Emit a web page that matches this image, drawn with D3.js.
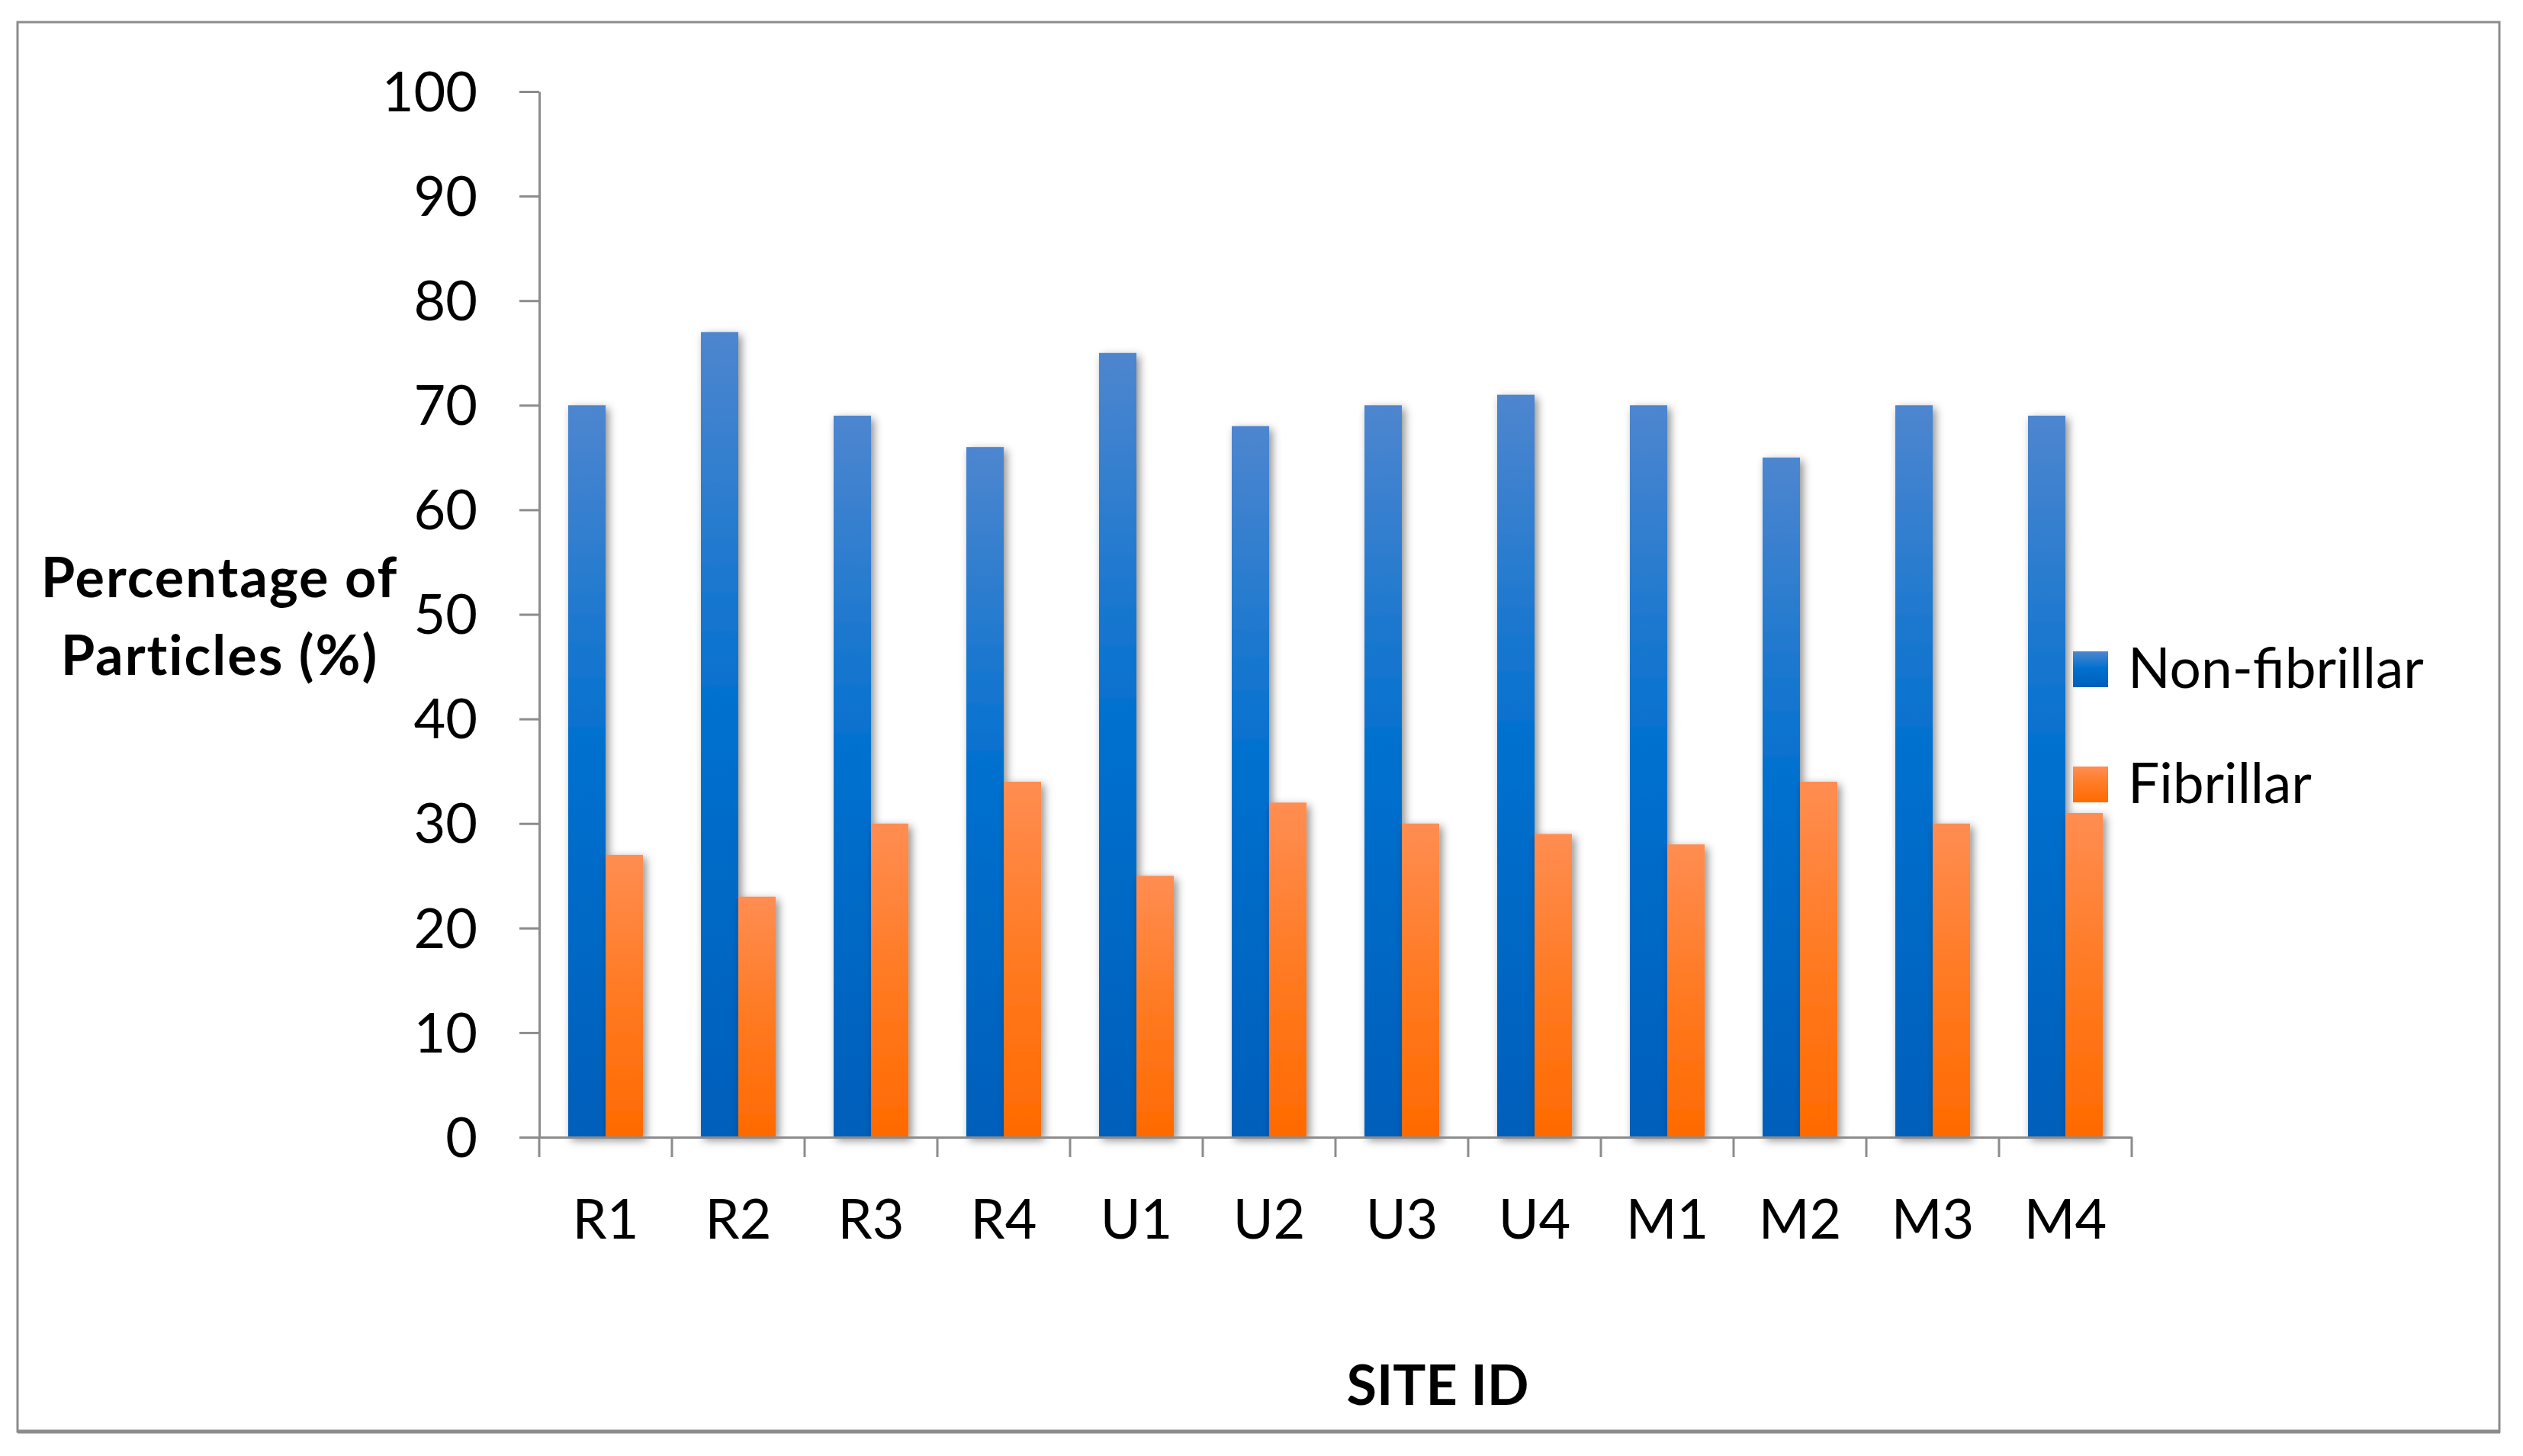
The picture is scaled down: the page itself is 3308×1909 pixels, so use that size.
<!DOCTYPE html>
<html>
<head>
<meta charset="utf-8">
<script src="https://cdn.jsdelivr.net/npm/d3@7"></script>
<style>
  html, body { margin: 0; padding: 0; background: #fff; }
  svg { display: block; }
  text { font-family: Lato, "Open Sans", sans-serif; fill: #000; }
</style>
</head>
<body>
<svg id="chart" width="3308" height="1909"></svg>
<script>
// ---- data ----
const categories = ["R1", "R2", "R3", "R4", "U1", "U2", "U3", "U4", "M1", "M2", "M3", "M4"];
const seriesNames = ["Non-fibrillar", "Fibrillar"];
const nonFibrillar = [70, 77, 69, 66, 75, 68, 70, 71, 70, 65, 70, 69];
const fibrillar = [27, 23, 30, 34, 25, 32, 30, 29, 28, 34, 30, 31];
const yTicks = [0, 10, 20, 30, 40, 50, 60, 70, 80, 90, 100];
const yTitleLines = ["Percentage of", "Particles (%)"];
const xTitle = "SITE ID";

// ---- layout ----
const W = 3308, H = 1909;
const plot = { left: 707, right: 2795, top: 120, bottom: 1491 };
const axisColor = "#8c8c8c";
const gapWidth = 1.55;

const svg = d3.select("#chart");
svg.append("rect").attr("width", W).attr("height", H).attr("fill", "#fff");

const defs = svg.append("defs");
function grad(id, stops) {
  const g = defs.append("linearGradient").attr("id", id)
    .attr("x1", 0).attr("y1", 0).attr("x2", 0).attr("y2", 1);
  stops.forEach(s => g.append("stop").attr("offset", s[0]).attr("stop-color", s[1]));
}
grad("gBlue", [[0, "#4e86cf"], [0.48, "#0070cf"], [1, "#005fba"]]);
grad("gOrange", [[0, "#ff8d52"], [0.5, "#ff7a22"], [1, "#ff6a00"]]);
const fills = ["url(#gBlue)", "url(#gOrange)"];

const f = defs.append("filter").attr("id", "shadow")
  .attr("x", "-60%").attr("y", "-10%").attr("width", "220%").attr("height", "120%");
f.append("feDropShadow").attr("dx", 4).attr("dy", 4).attr("stdDeviation", 6)
  .attr("flood-color", "#000").attr("flood-opacity", 0.45);

// outer border
svg.append("rect").attr("x", 23).attr("y", 29).attr("width", 3277 - 23).attr("height", 1877 - 29)
  .attr("fill", "none").attr("stroke", axisColor).attr("stroke-width", 3);
svg.append("line").attr("x1", 23).attr("x2", 3278).attr("y1", 1877).attr("y2", 1877)
  .attr("stroke", axisColor).attr("stroke-width", 5);

// ---- scales ----
const x = d3.scaleBand().domain(categories).range([plot.left, plot.right]).padding(0);
const bw = x.bandwidth() / (seriesNames.length + gapWidth);
const xs = d3.scaleBand().domain(seriesNames)
  .range([(x.bandwidth() - bw * seriesNames.length) / 2, (x.bandwidth() + bw * seriesNames.length) / 2]);
const y = d3.scaleLinear().domain([0, 100]).range([plot.bottom, plot.top]);

// ---- bars ----
const rows = categories.map((c, i) => ({ cat: c, vals: [nonFibrillar[i], fibrillar[i]] }));
const gBars = svg.append("g");
rows.forEach(r => {
  r.vals.forEach((v, j) => {
    gBars.append("rect")
      .attr("x", x(r.cat) + xs(seriesNames[j]))
      .attr("y", y(v))
      .attr("width", xs.bandwidth())
      .attr("height", y(0) - y(v))
      .attr("fill", fills[j])
      .attr("filter", "url(#shadow)");
  });
});

// ---- y axis ----
const yAxis = svg.append("g").attr("transform", `translate(${plot.left},0)`)
  .call(d3.axisLeft(y).tickValues(yTicks).tickSize(26).tickSizeOuter(0).tickPadding(55));
yAxis.select(".domain").attr("stroke", axisColor).attr("stroke-width", 3);
yAxis.selectAll(".tick line").attr("stroke", axisColor).attr("stroke-width", 3);
yAxis.selectAll(".tick text").attr("font-size", 72).attr("font-family", "Lato").attr("dy", "0.35em").attr("fill", "#000");

// ---- x axis ----
const xAxis = svg.append("g").attr("transform", `translate(0,${plot.bottom})`)
  .call(d3.axisBottom(x).tickSize(0).tickSizeOuter(0).tickPadding(82));
xAxis.select(".domain").attr("stroke", axisColor).attr("stroke-width", 3);
xAxis.selectAll(".tick text").attr("font-size", 72).attr("font-family", "Lato").attr("fill", "#000");
const bounds = categories.map(c => x(c)).concat([x(categories[categories.length - 1]) + x.bandwidth()]);
xAxis.selectAll("line.bound").data(bounds).enter().append("line")
  .attr("class", "bound")
  .attr("x1", d => d).attr("x2", d => d).attr("y1", 0).attr("y2", 26)
  .attr("stroke", axisColor).attr("stroke-width", 3);

// ---- titles ----
svg.append("text").attr("x", 288).attr("font-size", 72).attr("font-weight", "bold")
  .attr("letter-spacing", 2).attr("text-anchor", "middle")
  .selectAll("tspan").data(yTitleLines).enter().append("tspan")
  .attr("x", 288).attr("y", (d, i) => 783 + i * 102).text(d => d);

svg.append("text").attr("x", 1885).attr("y", 1842).attr("font-size", 72).attr("font-weight", "bold")
  .attr("text-anchor", "middle").text(xTitle);

// ---- legend ----
const legend = svg.append("g").attr("transform", "translate(2718,854)");
seriesNames.forEach((s, i) => {
  const g = legend.append("g").attr("transform", `translate(0,${i * 151})`);
  g.append("rect").attr("width", 46).attr("height", 47).attr("fill", fills[i]);
  g.append("text").attr("x", 72).attr("y", 48).attr("font-size", 73).text(s);
});
</script>
</body>
</html>
